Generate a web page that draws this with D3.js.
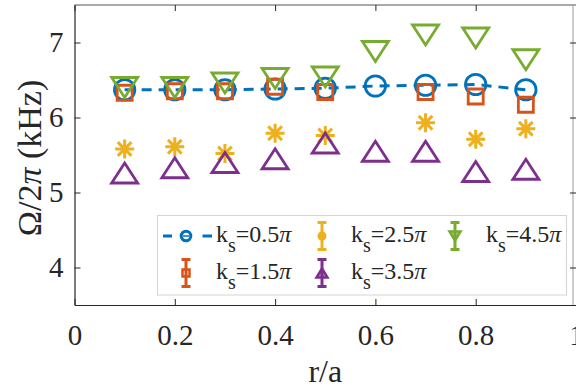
<!DOCTYPE html>
<html><head><meta charset="utf-8">
<script src="https://cdn.jsdelivr.net/npm/d3@7"></script>
<style>
body{margin:0;background:#fff;}
svg{display:block;}
text{font-family:"Liberation Serif","Times New Roman",serif;fill:#262626;}
</style>
</head><body>
<svg id="c" width="576" height="387"></svg>
<script>
// ---- data ----
const rA = [0.1, 0.2, 0.3, 0.4, 0.5, 0.6, 0.7, 0.8, 0.9];
const ks05 = [6.37, 6.37, 6.37, 6.38, 6.39, 6.42, 6.43, 6.44, 6.37];
const ks15 = [6.33, 6.35, 6.35, 6.41, 6.34, null, 6.34, 6.28, 6.17];
const ks25 = [5.58, 5.61, 5.52, 5.79, 5.76, null, 5.93, 5.71, 5.85];
const ks35 = [5.26, 5.33, 5.40, 5.45, 5.66, 5.55, 5.55, 5.28, 5.31];
const ks45 = [6.40, 6.40, 6.46, 6.52, 6.54, 6.88, 7.10, 7.06, 6.77];
const seriesLabels = ["0.5", "1.5", "2.5", "3.5", "4.5"];
const seriesColors = ["#0072BD", "#D95319", "#EDB120", "#7E2F8E", "#77AC30"];
const seriesMarkers = ["circle", "square", "asterisk", "triUp", "triDown"];
const xTicks = [0, 0.2, 0.4, 0.6, 0.8, 1];
const yTicks = [4, 5, 6, 7];
const xLabel = "r/a";

const allSeries = [ks05, ks15, ks25, ks35, ks45];

const svg = d3.select("#c");
const W = 576, H = 387;
const m = {l: 74.5, r: 576, t: 5, b: 305};
const x = d3.scaleLinear().domain([0, 1]).range([m.l, m.r]);
const y = d3.scaleLinear().domain([3.5, 7.5]).range([m.b, m.t]);
const axisColor = "#262626";
const serif = '"Liberation Serif","Times New Roman",serif';

// frame: top & right (light)
svg.append("line").attr("x1", m.l).attr("x2", W).attr("y1", m.t).attr("y2", m.t)
  .attr("stroke", "#555").attr("stroke-width", 1);
svg.append("line").attr("x1", 573).attr("x2", 573).attr("y1", m.t).attr("y2", m.b)
  .attr("stroke", "#999").attr("stroke-width", 1);

// axes
const gx = svg.append("g").attr("transform", `translate(0,${m.b})`)
  .call(d3.axisBottom(x).tickValues(xTicks).tickSize(-6).tickSizeOuter(0).tickPadding(19.5)
    .tickFormat(d => d3.format("~g")(d)));
const gy = svg.append("g").attr("transform", `translate(${m.l},0)`)
  .call(d3.axisLeft(y).tickValues(yTicks).tickSize(-6).tickSizeOuter(0).tickPadding(11)
    .tickFormat(d3.format("d")));
const gt = svg.append("g").attr("transform", `translate(0,${m.t})`)
  .call(d3.axisTop(x).tickValues(xTicks).tickSize(-6).tickSizeOuter(0).tickFormat(""));
const gr = svg.append("g").attr("transform", `translate(576,0)`)
  .call(d3.axisRight(y).tickValues(yTicks).tickSize(-6).tickSizeOuter(0).tickFormat(""));
gt.select(".domain").remove();
gr.select(".domain").remove();
[gx, gy, gt, gr].forEach(g => {
  g.attr("font-family", serif).attr("font-size", 29);
  g.selectAll(".domain").attr("stroke", axisColor).attr("stroke-width", 1.2);
  g.selectAll(".tick line").attr("stroke", axisColor).attr("stroke-width", 1);
  g.selectAll(".tick text").attr("fill", axisColor)
    .style("font-family", serif).style("font-size", "29px");
});

// axis labels
svg.append("text").attr("x", x(0.5)).attr("y", 382).attr("text-anchor", "middle")
  .style("font-size", "32px").text(xLabel);
const yl = svg.append("text").attr("transform", "translate(41,158) rotate(-90)")
  .attr("text-anchor", "middle").style("font-size", "34px");
yl.append("tspan").text("Ω/2");
yl.append("tspan").attr("font-style", "italic").text("π");
yl.append("tspan").text(" (kHz)");

// marker paths
function markerPath(type, cx, cy, s) {
  const p = d3.path();
  if (type === "circle") {
    p.moveTo(cx + s.r, cy); p.arc(cx, cy, s.r, 0, 2 * Math.PI);
  } else if (type === "square") {
    p.rect(cx - s.a / 2, cy - s.a / 2, s.a, s.a);
  } else if (type === "triUp") {
    p.moveTo(cx, cy - s.h / 2); p.lineTo(cx + s.w / 2, cy + s.h / 2); p.lineTo(cx - s.w / 2, cy + s.h / 2); p.closePath();
  } else if (type === "triDown") {
    p.moveTo(cx, cy + s.h / 2); p.lineTo(cx + s.w / 2, cy - s.h / 2); p.lineTo(cx - s.w / 2, cy - s.h / 2); p.closePath();
  } else if (type === "asterisk") {
    const a = s.k, d = s.k * 0.72;
    p.moveTo(cx - a, cy); p.lineTo(cx + a, cy);
    p.moveTo(cx, cy - a); p.lineTo(cx, cy + a);
    p.moveTo(cx - d, cy - d); p.lineTo(cx + d, cy + d);
    p.moveTo(cx - d, cy + d); p.lineTo(cx + d, cy - d);
  }
  return p.toString();
}
const bigSize = {r: 10.2, a: 15, w: 26, h: 20, k: 9.5};

// dashed line for first series
const line = d3.line().defined(d => d[1] != null).x(d => x(d[0])).y(d => y(d[1]));
svg.append("path").datum(rA.map((r, i) => [r, ks05[i]]))
  .attr("d", line).attr("fill", "none").attr("stroke", seriesColors[0])
  .attr("stroke-width", 3).attr("stroke-dasharray", "10,7");

allSeries.forEach((vals, si) => {
  const g = svg.append("g");
  g.selectAll("path").data(rA.map((r, i) => [r, vals[i]]).filter(d => d[1] != null))
    .join("path")
    .attr("d", d => markerPath(seriesMarkers[si], x(d[0]), y(d[1]), bigSize))
    .attr("fill", "none").attr("stroke", seriesColors[si])
    .attr("stroke-width", seriesMarkers[si] === "asterisk" ? 3 : 2.8)
    .attr("stroke-linejoin", "miter");
});

// legend
const lg = svg.append("g");
lg.append("rect").attr("x", 157.5).attr("y", 215.5).attr("width", 409).attr("height", 79.5)
  .attr("fill", "#fff").attr("stroke", "#d4d4d4").attr("stroke-width", 1);
const legPos = [
  {ix: 186, tx: 216, cy: 236}, {ix: 186, tx: 216, cy: 273},
  {ix: 322, tx: 351, cy: 236}, {ix: 322, tx: 351, cy: 273},
  {ix: 455, tx: 486, cy: 236}
];
const smallSize = {r: 4.8, a: 7, w: 11, h: 9, k: 4};
seriesLabels.forEach((lab, si) => {
  const p = legPos[si], c = seriesColors[si];
  if (si === 0) {
    [[163, 172], [202.5, 212]].forEach(s => lg.append("line").attr("x1", s[0]).attr("x2", s[1])
      .attr("y1", p.cy).attr("y2", p.cy).attr("stroke", c).attr("stroke-width", 3));
    lg.append("path").attr("d", markerPath("circle", p.ix, p.cy, smallSize))
      .attr("fill", "none").attr("stroke", c).attr("stroke-width", 3);
    lg.append("line").attr("x1", p.ix - 3).attr("x2", p.ix + 3).attr("y1", p.cy).attr("y2", p.cy)
      .attr("stroke", c).attr("stroke-width", 1.5);
  } else {
    const eb = d3.path();
    eb.moveTo(p.ix, p.cy - 13.5); eb.lineTo(p.ix, p.cy + 13.5);
    eb.moveTo(p.ix - 4.5, p.cy - 13.5); eb.lineTo(p.ix + 4.5, p.cy - 13.5);
    eb.moveTo(p.ix - 4.5, p.cy + 13.5); eb.lineTo(p.ix + 4.5, p.cy + 13.5);
    lg.append("path").attr("d", eb.toString()).attr("stroke", c).attr("stroke-width", 3).attr("fill", "none");
    const mk = seriesMarkers[si];
    if (mk === "asterisk") {
      lg.append("circle").attr("cx", p.ix).attr("cy", p.cy).attr("r", 4.5).attr("fill", c);
    } else {
      lg.append("path").attr("d", markerPath(mk, p.ix, p.cy, smallSize))
        .attr("fill", mk === "square" ? "none" : c).attr("fill-opacity", mk === "square" ? 0 : 0.55)
        .attr("stroke", c).attr("stroke-width", 2.5);
    }
  }
  const t = lg.append("text").attr("x", p.tx).attr("y", p.cy + 6).style("font-size", "24px");
  t.append("tspan").text("k");
  t.append("tspan").attr("dy", 10).style("font-size", "20px").text("s");
  t.append("tspan").attr("dy", -10).text("=" + lab);
  t.append("tspan").attr("font-style", "italic").text("π");
});
</script>
</body></html>
